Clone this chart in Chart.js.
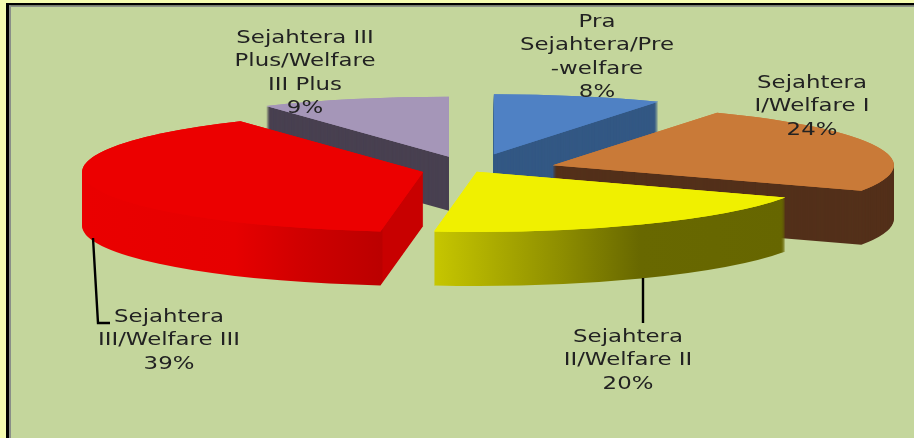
<!DOCTYPE html>
<html>
<head>
<meta charset="utf-8">
<style>
  html, body { margin: 0; padding: 0; background: #c4d69c; overflow: hidden; }
  canvas { display: block; }
</style>
</head>
<body>
<canvas id="myChart" width="914" height="438"></canvas>
<script src="https://cdn.jsdelivr.net/npm/chart.js@4"></script>
<script>
// values
const categories = ['Pra Sejahtera/Pre-welfare', 'Sejahtera I/Welfare I', 'Sejahtera II/Welfare II', 'Sejahtera III/Welfare III', 'Sejahtera III Plus/Welfare III Plus'];
const values = [8, 24, 20, 39, 9];
const labelLines = [
    ['Pra', 'Sejahtera/Pre', '-welfare'],
    ['Sejahtera', 'I/Welfare I'],
    ['Sejahtera', 'II/Welfare II'],
    ['Sejahtera', 'III/Welfare III'],
    ['Sejahtera III', 'Plus/Welfare', 'III Plus']
];

const topColors = ['#4f81c4', '#c97a38', '#f0f000', '#ec0000', '#a596b8'];
const explode = [92, 86, 12, 49, 79]; // page px, along each slice's middle
const drawOrder = [4, 0, 1, 3, 2];

// where the flattened pie sits on the page
const pieX = 471, pieY = 170, pieRx = 341, pieRy = 60, pieDepth = 54;

const labelX = [597, 812, 628, 169, 305];
const labelY = [22, 83, 337, 317, 38];
const lineGap = 23.6;

const leaders = [
    [[93, 238], [98, 323], [110, 323]],
    [[643, 278], [643, 323]]
];

function sideFill(ctx, i, toChartX) {
    // gradients are given in page x, the ctx is already flattened
    const ramp = (stops) => {
        const g = ctx.createLinearGradient(toChartX(stops[0][0]), 0, toChartX(stops[stops.length - 1][0]), 0);
        const x0 = stops[0][0], x1 = stops[stops.length - 1][0];
        stops.forEach(s => g.addColorStop((s[0] - x0) / (x1 - x0), s[1]));
        return g;
    };
    if (i === 2) return ramp([[435, '#c6c600'], [560, '#8e8e00'], [640, '#686800'], [787, '#666600']]);
    if (i === 3) return ramp([[85, '#ea0000'], [235, '#e60000'], [300, '#d00000'], [382, '#bb0000'], [383, '#c80000'], [425, '#c80000']]);
    return ['#335884', '#53301a', '', '', '#484050'][i];
}

const pie3d = {
    id: 'pie3d',
    beforeDraw(chart) {
        const ctx = chart.ctx;
        // page frame
        ctx.save();
        ctx.fillStyle = '#f4fbb0';
        ctx.fillRect(0, 0, 914, 3);
        ctx.fillRect(0, 0, 6, 438);
        ctx.fillStyle = '#000';
        ctx.fillRect(6, 3, 908, 2.5);
        ctx.fillRect(6, 3, 3, 435);
        ctx.fillStyle = '#8a8f88';
        ctx.fillRect(9, 5.5, 905, 1.5);
        ctx.fillRect(9, 5.5, 2, 432.5);
        ctx.restore();
    },
    beforeDatasetsDraw(chart) {
        const ctx = chart.ctx;
        const arcs = chart.getDatasetMeta(0).data;
        const R = arcs[0].outerRadius;
        const sx = pieRx / R, sy = pieRy / R;
        const cx = arcs[0].x, cy = arcs[0].y;
        drawOrder.forEach(i => {
            const arc = arcs[i];
            const mid = (arc.startAngle + arc.endAngle) / 2;
            const ox = pieX + explode[i] * Math.cos(mid);
            const oy = pieY + explode[i] * Math.sin(mid) * pieRy / pieRx;
            const toChartX = (px) => cx + (px - ox) / sx;
            const topFill = arc.options.backgroundColor;
            const side = Object.create(arc);
            const sideOptions = Object.create(arc.options);
            side.options = sideOptions;
            // d -1 repeats the top so the side colour does not bleed through its edge
            for (let d = pieDepth; d >= -1; d--) {
                const dy = Math.max(d, 0);
                ctx.save();
                ctx.translate(ox, oy + dy);
                ctx.scale(sx, sy);
                ctx.translate(-cx, -cy);
                const fill = d <= 0 ? topFill : sideFill(ctx, i, toChartX);
                Object.defineProperty(sideOptions, 'backgroundColor', { value: fill, configurable: true });
                arc.draw.call(side, ctx);
                ctx.restore();
            }
        });
        return false; // the flat pie is not wanted
    },
    afterDraw(chart) {
        const ctx = chart.ctx;
        ctx.save();
        ctx.strokeStyle = '#000';
        ctx.lineWidth = 2.4;
        leaders.forEach(pts => {
            ctx.beginPath();
            pts.forEach((p, k) => k ? ctx.lineTo(p[0], p[1]) : ctx.moveTo(p[0], p[1]));
            ctx.stroke();
        });
        ctx.fillStyle = '#222';
        ctx.font = '18px "DejaVu Sans"';
        ctx.textAlign = 'center';
        ctx.textBaseline = 'middle';
        labelLines.forEach((lines, i) => {
            lines.concat(values[i] + '%').forEach((t, k) => {
                // the reference text is stretched sideways
                ctx.save();
                ctx.translate(labelX[i], labelY[i] + k * lineGap);
                ctx.scale(1.27, 1);
                ctx.fillText(t, 0, 0);
                ctx.restore();
            });
        });
        ctx.restore();
    }
};

new Chart(document.getElementById('myChart'), {
    type: 'pie',
    data: {
        labels: categories,
        datasets: [{
            data: values,
            backgroundColor: topColors,
            borderWidth: 0
        }]
    },
    options: {
        responsive: false,
        animation: false,
        rotation: 0,
        layout: { padding: 0 },
        plugins: {
            legend: false,
            tooltip: { enabled: false }
        }
    },
    plugins: [pie3d]
});
</script>
</body>
</html>
